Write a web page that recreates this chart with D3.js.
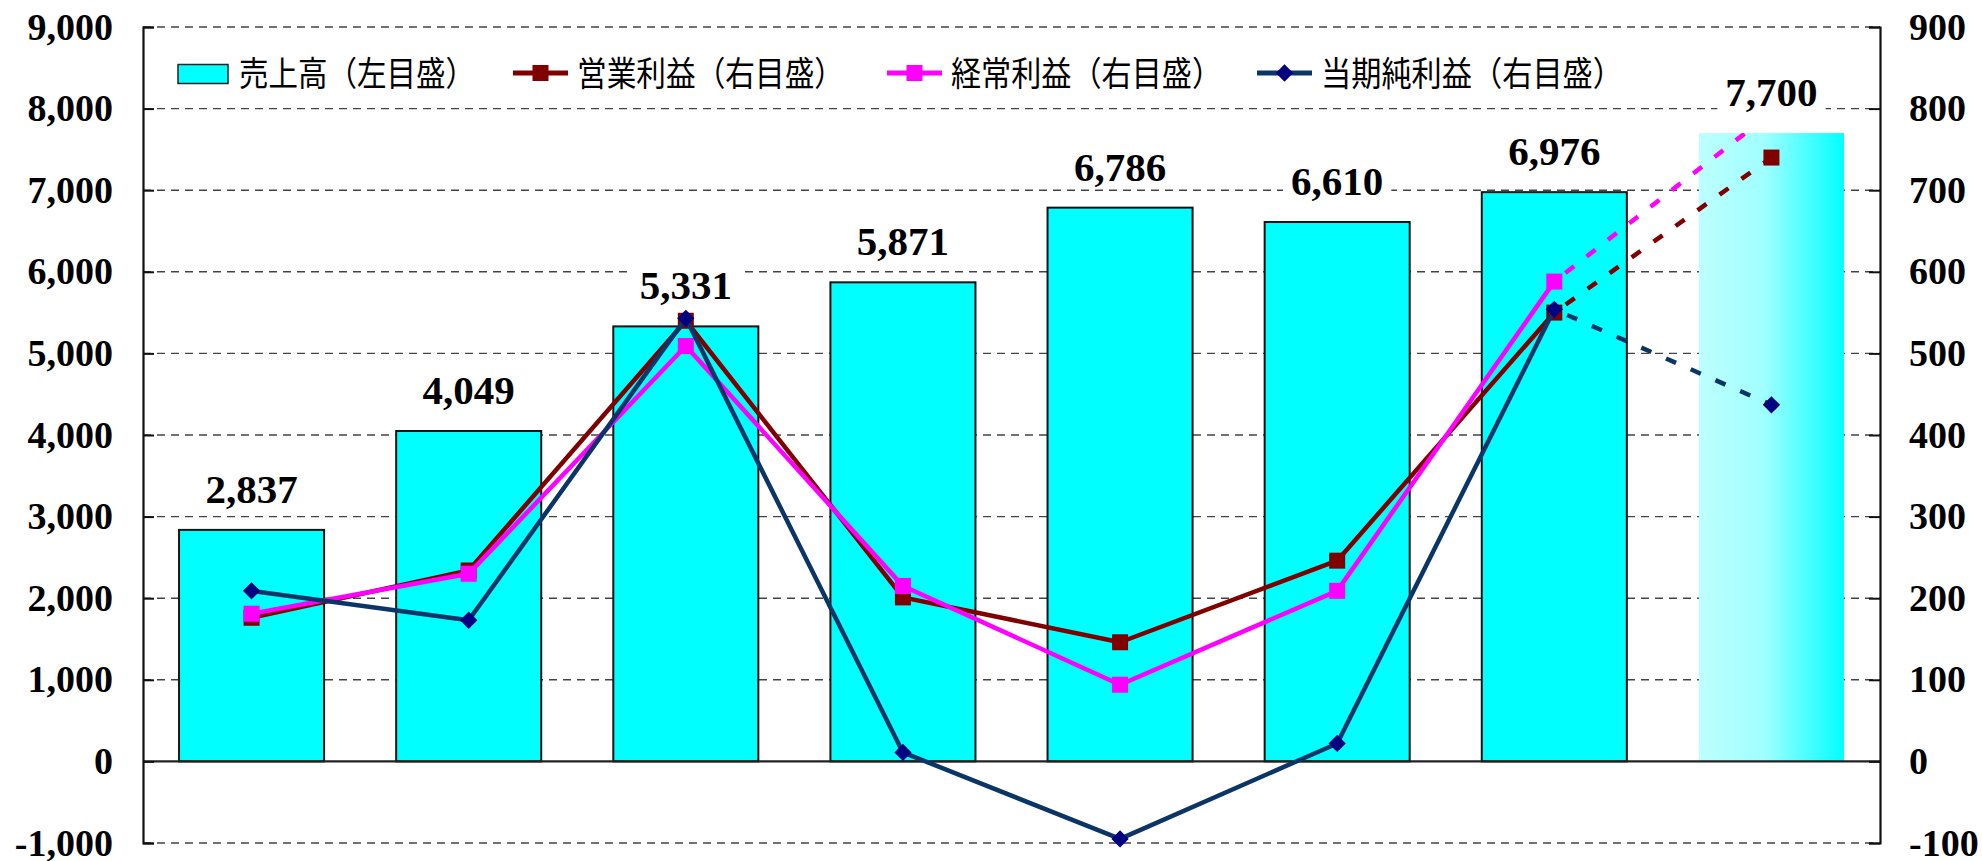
<!DOCTYPE html>
<html><head><meta charset="utf-8">
<script src="https://cdn.jsdelivr.net/npm/d3@7"></script>
<style>body{margin:0;background:#fff}</style>
</head><body>
<svg id="c" width="1982" height="861"></svg>
<script>
// ---- data ----
const categories = ["1","2","3","4","5","6","7","8(予)"];
const sales = [2837, 4049, 5331, 5871, 6786, 6610, 6976, 7700];
const operatingProfit = [176, 234, 540, 201, 146, 246, 550, 740];
const ordinaryProfit = [181, 230, 509, 215, 94, 209, 588, 795];
const netProfit = [209, 173, 543, 11, -95, 22, 554, 437];
const forecastFrom = 6; // last actual index; index 7 is forecast
const leftTicks = [-1000, 0, 1000, 2000, 3000, 4000, 5000, 6000, 7000, 8000, 9000];
const rightTicks = [-100, 0, 100, 200, 300, 400, 500, 600, 700, 800, 900];
const legendLabels = ["売上高（左目盛）", "営業利益（右目盛）", "経常利益（右目盛）", "当期純利益（右目盛）"];

// ---- layout ----
const L = 143, R = 1880, T = 27, B = 843;
const legendX = [178, 513, 887, 1257];
const legendTextW = [236, 267, 271, 302];
const svg = d3.select("#c");

const x = d3.scaleBand().domain(categories).range([L, R]).paddingInner(0.332).paddingOuter(0.166);
const yL = d3.scaleLinear().domain([-1000, 9000]).range([B, T]);
const yR = d3.scaleLinear().domain([-100, 900]).range([B, T]);
const cx = i => x(categories[i]) + x.bandwidth() / 2;
const fmt = d => d3.format(",")(d).replace("\u2212", "-");

const defs = svg.append("defs");
const grad = defs.append("linearGradient").attr("id", "fc").attr("x1", "0").attr("x2", "1").attr("y1", "0").attr("y2", "0");
grad.append("stop").attr("offset", "0").attr("stop-color", "#BDFFFF");
grad.append("stop").attr("offset", "0.45").attr("stop-color", "#A0FFFF");
grad.append("stop").attr("offset", "1").attr("stop-color", "#00FFFF");
defs.append("clipPath").attr("id", "barclip").append("rect")
  .attr("x", L).attr("width", R - L)
  .attr("y", yL(sales[sales.length - 1])).attr("height", B - yL(sales[sales.length - 1]));

// gridlines
svg.append("g").selectAll("line").data(leftTicks.filter(d => d !== 0)).join("line")
  .attr("x1", L).attr("x2", R).attr("y1", d => yL(d)).attr("y2", d => yL(d))
  .attr("stroke", "#444").attr("stroke-width", 1.4).attr("stroke-dasharray", "8,6");

// bars
svg.append("g").selectAll("rect").data(sales).join("rect")
  .attr("x", (d, i) => x(categories[i]))
  .attr("width", x.bandwidth())
  .attr("y", d => yL(d))
  .attr("height", d => yL(0) - yL(d))
  .attr("fill", (d, i) => i > forecastFrom ? "url(#fc)" : "#00FFFF")
  .attr("stroke", (d, i) => i > forecastFrom ? "none" : "#111")
  .attr("stroke-width", 2);

// zero line
svg.append("line").attr("x1", L).attr("x2", R).attr("y1", yL(0)).attr("y2", yL(0))
  .attr("stroke", "#222").attr("stroke-width", 2.2);

// axes
const axL = svg.append("g").attr("transform", `translate(${L},0)`)
  .call(d3.axisLeft(yL).tickValues(leftTicks).tickFormat(fmt).tickSize(-11).tickPadding(30));
const axR = svg.append("g").attr("transform", `translate(${R},0)`)
  .call(d3.axisRight(yR).tickValues(rightTicks).tickFormat(fmt).tickSize(-11).tickPadding(29));
[axL, axR].forEach(a => {
  a.select(".domain").attr("stroke", "#111").attr("stroke-width", 2.2);
  a.selectAll(".tick line").attr("stroke", "#111").attr("stroke-width", 2);
  a.selectAll("text").attr("font-family", "'Liberation Serif', serif").attr("font-weight", "bold")
    .attr("font-size", 38).attr("fill", "#000");
});

// bar value labels
const lab = svg.append("g");
sales.forEach((v, i) => {
  const g = lab.append("g");
  const t = g.append("text").attr("x", cx(i)).attr("y", yL(v) - 27)
    .attr("text-anchor", "middle").attr("font-family", "'Liberation Serif', serif")
    .attr("font-weight", "bold").attr("font-size", 41).attr("fill", "#000").text(fmt(v));
  const bb = t.node().getBBox();
  g.insert("rect", "text").attr("x", bb.x - 8).attr("y", bb.y + 4).attr("width", bb.width + 16)
    .attr("height", bb.height - 8).attr("fill", "#fff");
});

// lines
const series = [
  {vals: operatingProfit, line: "#800000", mk: "#800000", shape: "sq"},
  {vals: ordinaryProfit, line: "#FF00FF", mk: "#FF00FF", shape: "sq", clip: true},
  {vals: netProfit, line: "#0A3566", mk: "#000080", shape: "di"}
];
const lineGen = d3.line().x(d => cx(d[0])).y(d => yR(d[1]));
const sqSym = d3.symbol().type(d3.symbolSquare).size(256);
const diSym = d3.symbol().type(d3.symbolSquare).size(150);
series.forEach(s => {
  const g = svg.append("g");
  const actual = s.vals.slice(0, forecastFrom + 1).map((v, i) => [i, v]);
  const fc = [[forecastFrom, s.vals[forecastFrom]], [forecastFrom + 1, s.vals[forecastFrom + 1]]];
  g.append("path").attr("d", lineGen(actual)).attr("fill", "none").attr("stroke", s.line)
    .attr("stroke-width", 4.5).attr("stroke-linejoin", "round");
  const fg = g.append("g");
  if (s.clip) fg.attr("clip-path", "url(#barclip)");
  fg.append("path").attr("d", lineGen(fc)).attr("fill", "none").attr("stroke", s.line)
    .attr("stroke-width", 4.5).attr("stroke-dasharray", "11,16").attr("stroke-dashoffset", -14);
  const pts = s.vals.map((v, i) => [i, v]);
  pts.forEach(p => {
    const target = (p[0] > forecastFrom) ? fg : g;
    target.append("path")
      .attr("d", s.shape === "sq" ? sqSym() : diSym())
      .attr("transform", `translate(${cx(p[0])},${yR(p[1])})` + (s.shape === "di" ? " rotate(45)" : ""))
      .attr("fill", s.mk);
  });
});

// legend
const leg = svg.append("g");
const ly = 74;
legendLabels.forEach((txt, i) => {
  const lx = legendX[i];
  let tx;
  if (i === 0) {
    leg.append("rect").attr("x", lx).attr("y", ly - 9.5).attr("width", 50).attr("height", 19)
      .attr("fill", "#00FFFF").attr("stroke", "#222").attr("stroke-width", 1.5);
    tx = lx + 61;
  } else {
    const s = series[i - 1];
    leg.append("line").attr("x1", lx).attr("x2", lx + 55).attr("y1", ly - 1).attr("y2", ly - 1)
      .attr("stroke", s.line).attr("stroke-width", 5);
    leg.append("path").attr("d", s.shape === "sq" ? sqSym() : diSym())
      .attr("transform", `translate(${lx + 27.5},${ly - 1})` + (s.shape === "di" ? " rotate(45)" : ""))
      .attr("fill", s.mk);
    tx = lx + 64;
  }
  leg.append("text").attr("x", tx).attr("y", ly).attr("dy", "0.36em")
    .attr("font-family", "'Noto Sans CJK JP', sans-serif").attr("font-size", 34).attr("fill", "#000")
    .attr("textLength", legendTextW[i]).attr("lengthAdjust", "spacingAndGlyphs").text(txt);
});
</script>
</body></html>
